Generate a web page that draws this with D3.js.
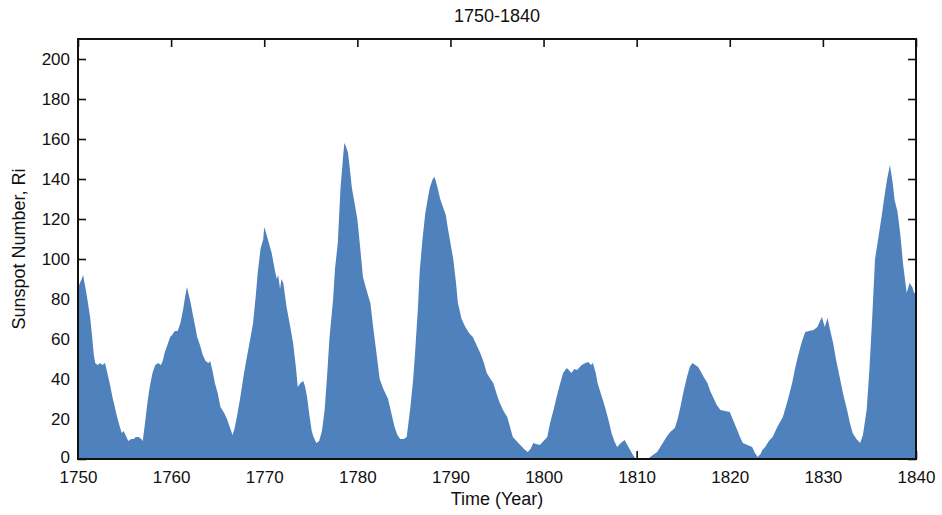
<!DOCTYPE html>
<html>
<head>
<meta charset="utf-8">
<script src="https://cdn.jsdelivr.net/npm/d3@7"></script>
<style>
  html, body { margin: 0; padding: 0; background: #fff; }
  svg { display: block; }
  text { font-family: "Liberation Sans", Arial, sans-serif; fill: #111; }
</style>
</head>
<body>
<svg id="chart" width="942" height="515"></svg>
<script>
// Smoothed sunspot number, 1750-1840
const chartTitle = "1750-1840";
const xLabel = "Time (Year)";
const yLabel = "Sunspot Number, Ri";

const years = [
  1750.0, 1750.2, 1750.4, 1750.55, 1750.7, 1750.9, 1751.1, 1751.3, 1751.5, 1751.7,
  1751.85, 1752.1, 1752.4, 1752.6, 1752.9, 1753.1, 1753.4, 1753.7, 1754.0, 1754.2,
  1754.5, 1754.7, 1754.9, 1755.1, 1755.4, 1755.7, 1756.0, 1756.2, 1756.5, 1756.8,
  1756.95, 1757.2, 1757.45, 1757.7, 1758.0, 1758.3, 1758.6, 1758.9, 1759.1, 1759.3,
  1759.6, 1759.9, 1760.1, 1760.4, 1760.7, 1761.0, 1761.3, 1761.5, 1761.7, 1761.9,
  1762.1, 1762.3, 1762.6, 1762.8, 1763.1, 1763.4, 1763.7, 1764.0, 1764.2, 1764.45,
  1764.7, 1765.0, 1765.3, 1765.7, 1766.0, 1766.3, 1766.6, 1766.8, 1767.1, 1767.4,
  1767.8, 1768.1, 1768.5, 1768.8, 1769.1, 1769.3, 1769.6, 1769.9, 1770.0, 1770.2,
  1770.5, 1770.8, 1771.0, 1771.2, 1771.35, 1771.5, 1771.7, 1771.85, 1772.05, 1772.4,
  1772.8, 1773.1, 1773.4, 1773.6, 1773.9, 1774.2, 1774.4, 1774.6, 1774.85, 1775.1,
  1775.3, 1775.6, 1775.9, 1776.2, 1776.5, 1776.8, 1777.0, 1777.2, 1777.4, 1777.6,
  1777.9, 1778.2, 1778.45, 1778.6, 1778.8, 1779.0, 1779.2, 1779.4, 1779.7, 1780.0,
  1780.3, 1780.6, 1780.9, 1781.2, 1781.4, 1781.7, 1782.0, 1782.4, 1782.8, 1783.3,
  1783.6, 1784.0, 1784.3, 1784.6, 1785.0, 1785.3, 1785.7, 1786.0, 1786.2, 1786.5,
  1786.7, 1787.0, 1787.3, 1787.6, 1787.8, 1788.1, 1788.3, 1788.6, 1788.9, 1789.2,
  1789.5, 1789.7, 1790.0, 1790.3, 1790.6, 1790.8, 1791.2, 1791.6, 1792.0, 1792.4,
  1792.8, 1793.2, 1793.6, 1793.9, 1794.3, 1794.6, 1795.0, 1795.3, 1795.7, 1796.1,
  1796.4, 1796.7, 1797.1, 1797.5, 1797.9, 1798.3, 1798.6, 1798.9, 1799.2, 1799.6,
  1800.0, 1800.4, 1800.7, 1801.1, 1801.4, 1801.8, 1802.1, 1802.5, 1803.0, 1803.3,
  1803.6, 1804.1, 1804.5, 1804.8, 1805.1, 1805.3, 1805.6, 1805.8, 1806.2, 1806.6,
  1807.0, 1807.3, 1807.6, 1807.9, 1808.3, 1808.7, 1809.0, 1809.3, 1809.6, 1809.9,
  1810.5, 1811.2, 1811.6, 1812.2, 1812.8, 1813.2, 1813.6, 1814.1, 1814.4, 1814.7,
  1815.0, 1815.4, 1815.7, 1816.0, 1816.3, 1816.6, 1816.8, 1817.2, 1817.6, 1817.9,
  1818.2, 1818.6, 1819.0, 1819.5, 1820.0, 1820.4, 1820.8, 1821.1, 1821.4, 1821.9,
  1822.4, 1822.7, 1823.0, 1823.3, 1823.5, 1823.8, 1824.2, 1824.6, 1825.1, 1825.7,
  1826.2, 1826.7, 1827.0, 1827.3, 1827.7, 1828.1, 1828.5, 1829.0, 1829.4, 1829.7,
  1829.9, 1830.2, 1830.5, 1830.8, 1831.1, 1831.4, 1831.8, 1832.2, 1832.6, 1832.9,
  1833.2, 1833.6, 1834.0, 1834.3, 1834.7, 1835.0, 1835.3, 1835.6, 1836.0, 1836.3,
  1836.6, 1836.9, 1837.2, 1837.5, 1837.7, 1838.0, 1838.3, 1838.6, 1839.0, 1839.3,
  1839.6, 1839.8, 1840.0
];

const sunspots = [
  85, 88, 90, 92, 88, 83, 77, 71, 62, 52,
  48, 47, 48, 47, 48, 44, 38, 31, 25, 21,
  16, 13, 14, 12, 9, 10, 10, 11, 11, 10,
  9, 18, 28, 36, 43, 47, 48, 47, 49, 53,
  57, 61, 62, 64, 64, 68, 75, 81, 86, 82,
  78, 73, 66, 61, 57, 52, 49, 48, 49, 44,
  38, 33, 26, 23, 20, 16, 12, 15, 22, 30,
  42, 50, 60, 68, 82, 93, 105, 110, 116, 113,
  108, 103, 98, 93, 90, 92, 85, 90, 88, 76,
  66, 58, 46, 36, 38, 39, 36, 31, 22, 14,
  11, 8, 9, 14, 25, 45, 60, 70, 80, 95,
  108, 136, 150, 158, 156, 153, 145, 136, 128, 120,
  106, 91, 86, 81, 78, 66, 55, 40, 35, 30,
  24, 16, 12, 10, 10, 11, 26, 40, 53, 75,
  94, 110, 123, 131, 136, 140, 141, 136, 130, 126,
  122, 116, 108, 100, 88, 78, 70, 66, 63, 61,
  57, 53, 48, 43, 40, 38, 32, 28, 24, 21,
  16, 11, 9, 7, 5, 3.5, 5, 8, 7.5, 7,
  9, 11, 18, 25, 31, 38, 43, 45.5, 43, 45,
  44.5, 47, 48, 48.5, 47, 48, 43, 38, 32, 26,
  19, 13, 9, 6, 8, 9.5, 7, 4.5, 2, 0,
  0, 0, 1.5, 3.5, 8, 11, 13.5, 15.5, 20, 26,
  33, 41, 46, 48, 47, 46, 44.5, 41, 38, 34,
  31, 27, 24.5, 24, 23.5, 19, 14.5, 11, 8, 7,
  6, 3, 1, 2.5, 4.5, 6, 9, 11, 16, 21,
  29, 38, 45, 51, 58, 63.5, 64, 64.5, 66, 69,
  71, 66, 70.5, 64, 58, 50, 41, 32, 24.5, 18,
  13, 10, 8, 12, 24.5, 45, 71, 100, 112, 121,
  131, 140, 147, 138, 129.5, 124, 113, 98, 83, 88,
  86, 83, 83
];

const xTicks = [1750, 1760, 1770, 1780, 1790, 1800, 1810, 1820, 1830, 1840];
const yTicks = [0, 20, 40, 60, 80, 100, 120, 140, 160, 180, 200];

const svg = d3.select("#chart");
const plot = { left: 78, right: 916, top: 39, bottom: 459 };

const x = d3.scaleLinear().domain([1750, 1840]).range([plot.left, plot.right]);
const y = d3.scaleLinear().domain([0, 210]).range([plot.bottom, plot.top]);

const series = years.map((yr, i) => ({ year: yr, value: sunspots[i] }));

// Inward ticks on all four sides (drawn beneath the filled area)
function styleAxis(g) {
  g.select(".domain").remove();
  g.selectAll(".tick line").attr("stroke", "#111").attr("stroke-width", 1.6);
  g.selectAll(".tick text")
    .style("font-family", "'Liberation Sans', Arial, sans-serif")
    .style("font-size", "17px")
    .attr("fill", "#111");
}

svg.append("g")
  .attr("transform", `translate(0,${plot.bottom})`)
  .call(d3.axisBottom(x).tickValues(xTicks).tickFormat(d3.format("d")).tickSize(-8).tickPadding(12))
  .call(styleAxis);

svg.append("g")
  .attr("transform", `translate(0,${plot.top})`)
  .call(d3.axisTop(x).tickValues(xTicks).tickFormat("").tickSize(-8))
  .call(styleAxis);

svg.append("g")
  .attr("transform", `translate(${plot.left},0)`)
  .call(d3.axisLeft(y).tickValues(yTicks).tickFormat(d3.format("d")).tickSize(-8).tickPadding(8))
  .call(styleAxis)
  .call(g => g.selectAll(".tick text").filter(d => d === 0).attr("dy", "0.2em"));

svg.append("g")
  .attr("transform", `translate(${plot.right},0)`)
  .call(d3.axisRight(y).tickValues(yTicks).tickFormat("").tickSize(-8))
  .call(styleAxis);

// Filled sunspot area
const area = d3.area()
  .x(d => x(d.year))
  .y0(y(0))
  .y1(d => y(d.value))
  .curve(d3.curveLinear);

svg.append("path")
  .datum(series)
  .attr("d", area)
  .attr("fill", "#4f81bd");

// Plot frame on top
svg.append("rect")
  .attr("x", plot.left)
  .attr("y", plot.top)
  .attr("width", plot.right - plot.left)
  .attr("height", plot.bottom - plot.top)
  .attr("fill", "none")
  .attr("stroke", "#111")
  .attr("stroke-width", 2);

// Title and axis labels
svg.append("text")
  .attr("x", (plot.left + plot.right) / 2)
  .attr("y", 22)
  .attr("text-anchor", "middle")
  .style("font-size", "18px")
  .text(chartTitle);

svg.append("text")
  .attr("x", (plot.left + plot.right) / 2)
  .attr("y", 505)
  .attr("text-anchor", "middle")
  .style("font-size", "18px")
  .text(xLabel);

svg.append("text")
  .attr("transform", `translate(25,${(plot.top + plot.bottom) / 2}) rotate(-90)`)
  .attr("text-anchor", "middle")
  .style("font-size", "18px")
  .text(yLabel);
</script>
</body>
</html>
